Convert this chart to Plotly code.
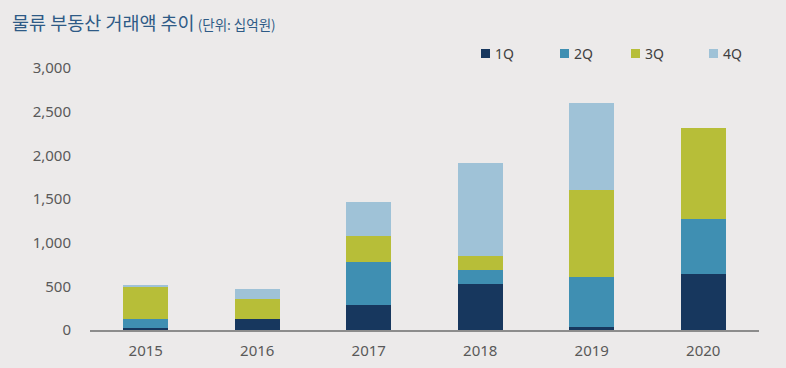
import plotly.graph_objects as go

years = ["2015", "2016", "2017", "2018", "2019", "2020"]
q1 = [26, 126, 290, 527, 34, 645]
q2 = [100, 0, 485, 156, 577, 622]
q3 = [363, 233, 301, 164, 992, 1043]
q4 = [23, 111, 386, 1065, 993, 0]
series_names = ["1Q", "2Q", "3Q", "4Q"]
colors = ["#17375E", "#3F8FB2", "#B7BE38", "#9FC2D7"]
y_ticks = [0, 500, 1000, 1500, 2000, 2500, 3000]

W, H = 786, 368
ML, MR, MT, MB = 90, 27, 68, 38
PW, PH = W - ML - MR, H - MT - MB


def px_x(px):
    return (px - ML) / PW


def px_y(py):
    return (H - MB - py) / PH


fig = go.Figure()
for name, vals, col in zip(series_names, [q1, q2, q3, q4], colors):
    fig.add_trace(go.Bar(x=years, y=vals, name=name, marker=dict(color=col, line=dict(width=0)),
                         width=0.4, showlegend=False))

# legend drawn as squares + labels
legend_sq_left = [481, 560, 631, 709]
shapes = []
annotations = []
for name, col, lx in zip(series_names, colors, legend_sq_left):
    shapes.append(dict(type="rect", xref="paper", yref="paper",
                       x0=px_x(lx), x1=px_x(lx + 9), y0=px_y(58), y1=px_y(49),
                       fillcolor=col, line=dict(width=0)))
    annotations.append(dict(xref="paper", yref="paper", x=px_x(lx + 12), y=px_y(53.5),
                            xanchor="left", yanchor="middle", showarrow=False, text=name,
                            font=dict(family="Noto Sans, sans-serif", size=14, color="#404040")))

annotations.append(dict(
    xref="paper", yref="paper", x=px_x(10), y=px_y(22), xanchor="left", yanchor="middle",
    showarrow=False,
    text="<span style='font-size:18.5px'>물류 부동산 거래액 추이</span><span style='font-size:13.5px'> (단위: 십억원)</span>",
    font=dict(family="Noto Sans CJK KR, sans-serif", color="#2E5A86"),
))

bg = "#ECEAEA"
fig.update_layout(
    width=W, height=H,
    barmode="stack",
    paper_bgcolor=bg, plot_bgcolor=bg,
    margin=dict(l=ML, r=MR, t=MT, b=MB, pad=0, autoexpand=False),
    font=dict(family="Noto Sans, sans-serif", size=15, color="#595959"),
    showlegend=False,
    xaxis=dict(showline=True, linecolor="#8C8C8C", linewidth=1.5, ticks="", automargin=False,
               tickfont=dict(size=15, color="#595959"), showgrid=False, ticklabelstandoff=6),
    yaxis=dict(range=[0, 3000], tickvals=y_ticks, tickformat=",d", showgrid=False, automargin=False,
               zeroline=False, showline=False, ticks="", ticklabelstandoff=18,
               tickfont=dict(size=15, color="#595959")),
    shapes=shapes,
    annotations=annotations,
)

fig.write_html("out.html", config={"displayModeBar": False},
               post_script="document.body.style.margin='0';")
